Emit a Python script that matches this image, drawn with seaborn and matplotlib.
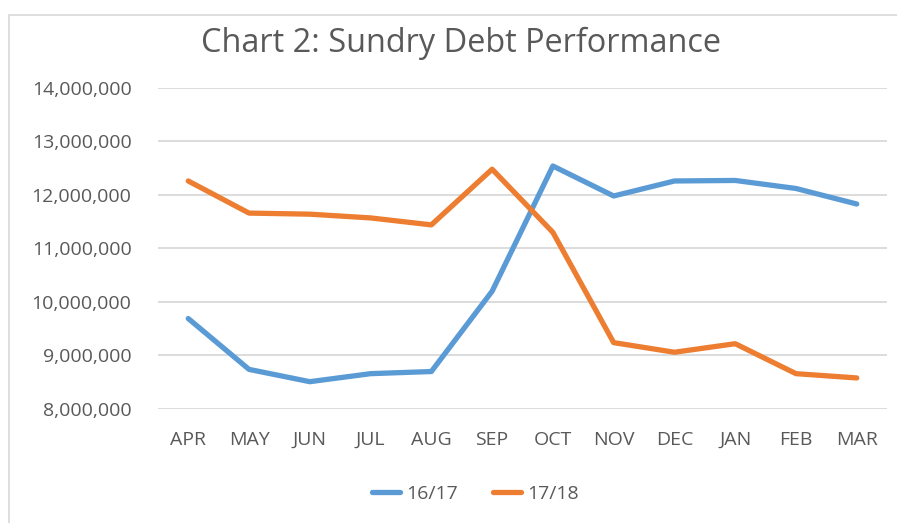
import pandas as pd
import seaborn as sns
import matplotlib.pyplot as plt
from matplotlib.patches import Rectangle
from matplotlib.ticker import FuncFormatter

# 数据
months = ['APR', 'MAY', 'JUN', 'JUL', 'AUG', 'SEP', 'OCT', 'NOV', 'DEC', 'JAN', 'FEB', 'MAR']
debt_1617 = [9690000, 8740000, 8510000, 8660000, 8700000, 10200000, 12540000,
             11980000, 12260000, 12270000, 12120000, 11830000]
debt_1718 = [12260000, 11660000, 11640000, 11570000, 11440000, 12480000, 11300000,
             9240000, 9060000, 9220000, 8660000, 8580000]

df = pd.DataFrame({
    'month': months * 2,
    'value': debt_1617 + debt_1718,
    'year': ['16/17'] * len(months) + ['17/18'] * len(months),
})

sns.set_style('white')
plt.rcParams['font.family'] = ['Open Sans', 'DejaVu Sans']
grey = '#595959'

fig = plt.figure(figsize=(8.97, 5.23), dpi=100)
ax = fig.add_axes([0.176, 0.218, 0.813, 0.614])

sns.lineplot(data=df, x='month', y='value', hue='year', sort=False,
             palette={'16/17': '#5B9BD5', '17/18': '#ED7D31'},
             linewidth=3.8, ax=ax)

# 坐标轴
ax.set_xlim(-0.5, len(months) - 0.5)
ax.set_ylim(8000000, 14000000)
ax.set_yticks(range(8000000, 14000001, 1000000))
ax.yaxis.set_major_formatter(FuncFormatter(lambda v, _: f'{v:,.0f}'))
ax.set_xlabel('')
ax.set_ylabel('')
ax.grid(axis='y', color='#D9D9D9', linewidth=1.3)
ax.set_axisbelow(True)
for s in ax.spines.values():
    s.set_visible(False)
ax.tick_params(axis='y', length=0, pad=19, labelsize=14, labelcolor=grey)
ax.tick_params(axis='x', length=0, pad=16, labelsize=14, labelcolor=grey)

# 标题
fig.text(0.514, 0.918, 'Chart 2: Sundry Debt Performance', ha='center', va='center',
         fontsize=23.4, color=grey)

# 图例
handles, labels = ax.get_legend_handles_labels()
ax.legend(handles, labels, loc='center', bbox_to_anchor=(0.53, 0.055),
          bbox_transform=fig.transFigure, ncol=2, frameon=False,
          fontsize=14, labelcolor=grey, handlelength=1.45, handletextpad=0.3,
          columnspacing=1.8)

# 外框
fig.add_artist(Rectangle((9 / 897, -0.1), 1.2, 1 - 15 / 523 + 0.1,
                         transform=fig.transFigure, fill=False,
                         edgecolor='#D9D9D9', linewidth=1.2))

plt.savefig('out.png', dpi=100)
